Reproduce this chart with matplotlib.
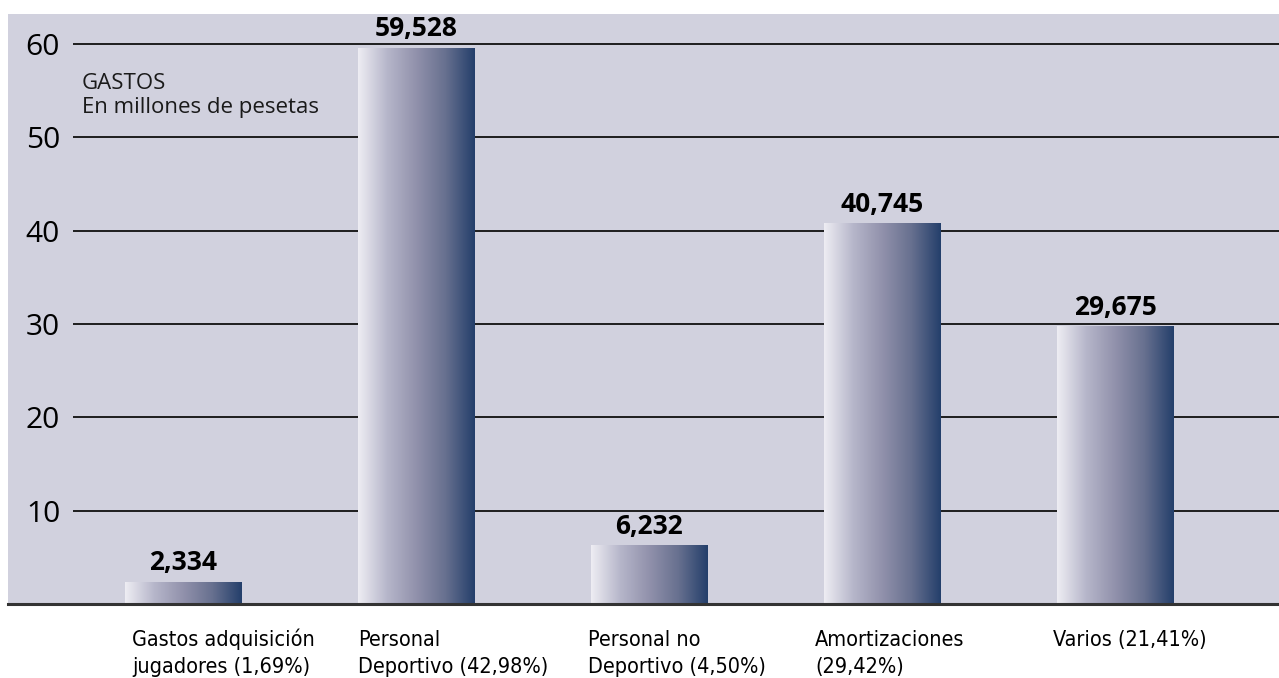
import numpy as np
import matplotlib
matplotlib.use("Agg")
import matplotlib.pyplot as plt
from matplotlib import font_manager as fm
from matplotlib.colors import LinearSegmentedColormap

# Datos
categorias = ["Gastos adquisición\njugadores (1,69%)",
              "Personal\nDeportivo (42,98%)",
              "Personal no\nDeportivo (4,50%)",
              "Amortizaciones\n(29,42%)",
              "Varios (21,41%)"]
gastos = [2.334, 59.528, 6.232, 40.745, 29.675]
yticks = [10, 20, 30, 40, 50, 60]

# desplazamiento de cada etiqueta respecto al borde izquierdo de la barra (px)
label_shift = [7, 0, -3, -9, -4]

W, H = 1279, 678
PX = 233.0      # px entre barras
PY = 590 / 63.2  # px por unidad


def buscar_condensada():
    # busca una fuente estrecha instalada (Liberation Narrow / DejaVu Condensed)
    prefer = ["liberationsansnarrow-regular", "dejavusanscondensed.ttf"]
    files = [f.fname for f in fm.fontManager.ttflist]
    for p in prefer:
        for f in files:
            if p in f.lower().replace(" ", ""):
                return fm.FontProperties(fname=f)
    for f in files:
        low = f.lower()
        if ("narrow" in low or "condensed" in low) and "bold" not in low \
                and "oblique" not in low and "italic" not in low and "serif" not in low \
                and "mono" not in low:
            return fm.FontProperties(fname=f)
    return fm.FontProperties(family="Open Sans", stretch="condensed")


fp_cond = buscar_condensada()

fondo = "#d1d1de"
grad = LinearSegmentedColormap.from_list(
    "grad", ["#eeedf3", "#b6b6ca", "#9191ab", "#67708f", "#243f6b"])

fig = plt.figure(figsize=(W / 100, H / 100), dpi=100)
fig.patch.set_facecolor("white")
ax = fig.add_axes([8 / W, 74 / H, 1271 / W, 590 / H])
ax.set_facecolor(fondo)

x = np.arange(len(gastos))
bars = ax.bar(x, gastos, width=117 / PX, color="none", edgecolor="none", zorder=3)

g = np.linspace(0, 1, 256).reshape(1, -1)
for b in bars:
    x0, w, h = b.get_x(), b.get_width(), b.get_height()
    ax.imshow(g, extent=[x0, x0 + w, 0, h], aspect="auto", cmap=grad,
              zorder=3, interpolation="bilinear")

xmin = (8 - 183.5) / PX
xmax = (1279 - 183.5) / PX
ax.set_xlim(xmin, xmax)
ax.set_ylim(0, 63.2)

# lineas horizontales
ax.hlines(yticks, (73 - 183.5) / PX, xmax, color="#1e1e1e", lw=1.4, zorder=2)
ax.axhline(0, color="#333333", lw=2.2, zorder=4, clip_on=False)

for s in ax.spines.values():
    s.set_visible(False)

ax.set_yticks(yticks)
ax.set_yticklabels([str(t) for t in yticks], family="Open Sans", fontsize=21.5)
ax.tick_params(axis="y", length=0, pad=-37.5)
ax.set_xticks([])

# valores
for b, v in zip(bars, gastos):
    ax.text(b.get_x() + b.get_width() / 2, v + 12 / PY,
            f"{v:.3f}".replace(".", ","), ha="center", va="baseline",
            family="Open Sans", fontweight="bold", fontsize=19, zorder=5)

# etiquetas de categoria, una linea cada vez
for b, lab, dx in zip(bars, categorias, label_shift):
    for i, linea in enumerate(lab.split("\n")):
        ax.text(b.get_x() + dx / PX, -(42 + 27 * i) / PY, linea,
                ha="left", va="baseline", fontproperties=fp_cond,
                fontsize=15.5, clip_on=False)

ax.text((82 - 183.5) / PX, (604 - 89) / PY, "GASTOS",
        ha="left", va="baseline", family="Open Sans", fontsize=16, color="#1a1a1a")
ax.text((82 - 183.5) / PX, (604 - 113) / PY, "En millones de pesetas",
        ha="left", va="baseline", family="Open Sans", fontsize=16, color="#1a1a1a")

fig.savefig("out.png", dpi=100, facecolor="white")
